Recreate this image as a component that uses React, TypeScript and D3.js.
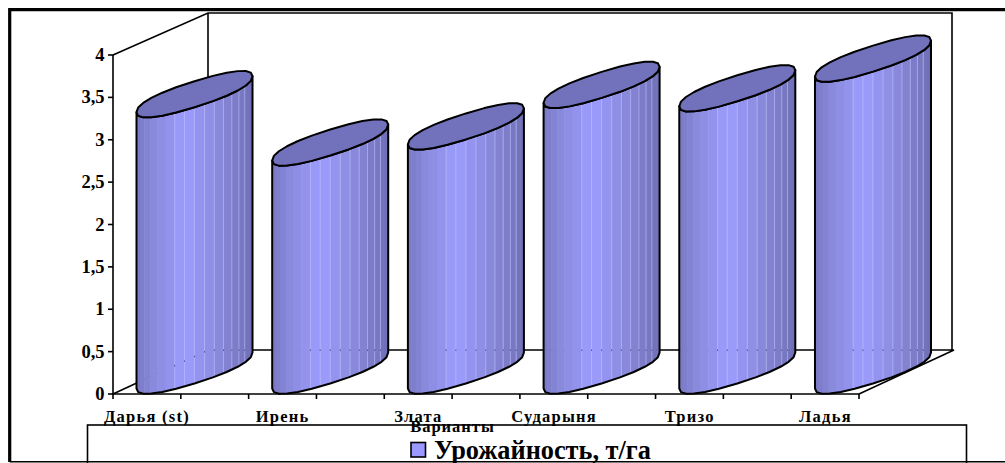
import React from "react";
import * as d3 from "d3";

const categories = ["Дарья (st)", "Ирень", "Злата", "Сударыня", "Тризо", "Ладья"];
const yields = [3.26, 2.69, 2.88, 3.37, 3.33, 3.68];
const yTicks = [0, 0.5, 1, 1.5, 2, 2.5, 3, 3.5, 4];
const yTickLabels = ["0", "0,5", "1", "1,5", "2", "2,5", "3", "3,5", "4"];
const xTickCount = 12;
const axisTitle = "Варианты";
const legendLabel = "Урожайность, т/га";

const W = 1005;
const H = 463;
const FONT = '"Liberation Serif", "Times New Roman", serif';

// Oblique projection of the chart box.
const FRONT_LEFT = 113;
const FRONT_RIGHT = 859;
const DEPTH_X = 95;
const DEPTH_Y = 44;

const y = d3.scaleLinear().domain([0, 4]).range([394, 55]);
const x = d3.scaleBand<string>().domain(categories).range([136.5, 931]).paddingInner(0.145).paddingOuter(0);
const xTick = d3.scaleLinear().domain([0, xTickCount - 1]).range([FRONT_LEFT, FRONT_RIGHT]);
const shade = d3
  .scaleLinear<string>()
  .domain([0, 0.15, 0.42, 0.7, 1])
  .range(["#7878c4", "#8a8adc", "#9c9cff", "#8a8adc", "#6e6eb6"]);

const SEGMENTS = 24;
const FACETS = 18;
const line = d3.line<[number, number]>().curve(d3.curveLinear);

const signedPow = (v: number, p: number) => Math.sign(v) * Math.pow(Math.abs(v), p);

// Rounded oblique ellipse used for the cap and foot of each cylinder.
function ellipsePoint(cx: number, cy: number, rx: number, t: number): [number, number] {
  const c = signedPow(Math.cos(t), 0.85);
  const s = signedPow(Math.sin(t), 0.85);
  return [cx + rx * c, cy - 18 * c + 13 * s];
}

// Height of the hidden back edge of the floor at a given x.
function floorEdge(px: number) {
  const backY = y(0) - DEPTH_Y;
  return px < FRONT_LEFT + DEPTH_X ? y(0) - ((px - FRONT_LEFT) * DEPTH_Y) / DEPTH_X : backY;
}

function Cylinder({ name, value }: { name: string; value: number }) {
  const left = x(name)!;
  const rx = x.bandwidth() / 2;
  const cx = left + rx;
  const footY = 370.5;
  const capY = footY - (y(0) - y(value));

  const angles = d3.range(SEGMENTS + 1).map((i) => (i / SEGMENTS) * 2 * Math.PI);
  const cap = angles.map((t) => ellipsePoint(cx, capY, rx, t));

  const lower = d3.range(SEGMENTS / 2 + 1).map((i) => (i / (SEGMENTS / 2)) * Math.PI);
  const foot = lower.map((t) => ellipsePoint(cx, footY, rx, t));
  const body: [number, number][] = [...lower.map((t) => ellipsePoint(cx, capY, rx, t)).reverse(), ...foot];

  const edges = d3.range(FACETS + 1).map((i) => cx - rx * Math.cos((i / FACETS) * Math.PI));
  const highlights = edges.slice(7, 16);
  const clipId = `body-${categories.indexOf(name)}`;

  return (
    <g>
      <clipPath id={clipId}>
        <path d={line(body)! + "Z"} />
      </clipPath>
      <g clipPath={`url(#${clipId})`}>
        {d3.range(FACETS).map((i) => (
          <rect
            key={i}
            x={edges[i]}
            y={capY - 30}
            width={edges[i + 1] - edges[i] + 0.5}
            height={footY - capY + 60}
            fill={shade((edges[i] + edges[i + 1] - 2 * left) / (4 * rx))}
          />
        ))}
        {highlights.map((e, i) => (
          <line key={i} x1={e} x2={e} y1={capY - 30} y2={footY + 30} stroke="#c0c0ff" strokeOpacity={0.6} strokeWidth={1} />
        ))}
        {highlights.map((e, i) => (
          <rect key={i} x={e - 0.5} y={floorEdge(e) - 0.5} width={1} height={1.5} fill="#50508c" />
        ))}
      </g>
      <path d={line(body)! + "Z"} fill="none" stroke="#000" strokeWidth={2} strokeLinejoin="round" />
      <path d={line(cap)! + "Z"} fill="#7272bc" stroke="#000" strokeWidth={2} strokeLinejoin="round" />
    </g>
  );
}

export default function App() {
  const backY = y(0) - DEPTH_Y;
  const topBackY = y(4) - 42;
  return (
    <svg width={W} height={H} style={{ position: "fixed", left: 0, top: 0, background: "#fff" }} fontFamily={FONT}>
      {/* chart frame */}
      <path d={`M9.7,462V9.7H${W}`} fill="none" stroke="#000" strokeWidth={3.2} />
      <path d={`M9.7,461.7H${W}`} fill="none" stroke="#000" strokeWidth={1.5} />

      {/* walls and floor */}
      <g fill="none" stroke="#000" strokeWidth={1.6}>
        <path d={`M${FRONT_LEFT},${y(4)}L${FRONT_LEFT + DEPTH_X},${topBackY}H${FRONT_RIGHT + DEPTH_X - 2}V${backY}`} />
        <path d={`M${FRONT_LEFT + DEPTH_X},${topBackY}V${backY}H${FRONT_RIGHT + DEPTH_X}L${FRONT_RIGHT},${y(0)}`} />
        <path d={`M${FRONT_LEFT + DEPTH_X},${backY}L${FRONT_LEFT},${y(0)}`} />
        <path d={`M${FRONT_LEFT},${y(4)}V${y(0)}H${FRONT_RIGHT}`} />
        {yTicks.map((t) => (
          <line key={t} x1={FRONT_LEFT - 5} x2={FRONT_LEFT} y1={y(t)} y2={y(t)} />
        ))}
        {d3.range(xTickCount).map((i) => (
          <line key={i} x1={xTick(i)} x2={xTick(i)} y1={y(0)} y2={y(0) + 5} />
        ))}
      </g>

      {categories.map((c, i) => (
        <Cylinder key={c} name={c} value={yields[i]} />
      ))}

      {/* value axis labels */}
      <g fontSize={18.5} fontWeight="bold" textAnchor="end">
        {yTicks.map((t, i) => (
          <text key={t} x={104.5} y={y(t) + 6}>
            {yTickLabels[i]}
          </text>
        ))}
      </g>

      {/* category labels */}
      <g fontSize={16.5} fontWeight="bold" textAnchor="middle" letterSpacing={1.25}>
        {categories.map((c) => (
          <text key={c} x={x(c)! + x.bandwidth() / 2 - 47.5} y={422}>
            {c}
          </text>
        ))}
      </g>

      {/* legend */}
      <rect x={87.5} y={425} width={879} height={40} fill="none" stroke="#000" strokeWidth={1.6} />
      <text x={452.5} y={432} fontSize={16.5} fontWeight="bold" textAnchor="middle" letterSpacing={1}>
        {axisTitle}
      </text>
      <rect x={411} y={442.5} width={14.5} height={14.5} fill="#9999ff" stroke="#000" strokeWidth={1.6} />
      <text x={434} y={459} fontSize={26.3} fontWeight="bold">
        {legendLabel}
      </text>
    </svg>
  );
}
